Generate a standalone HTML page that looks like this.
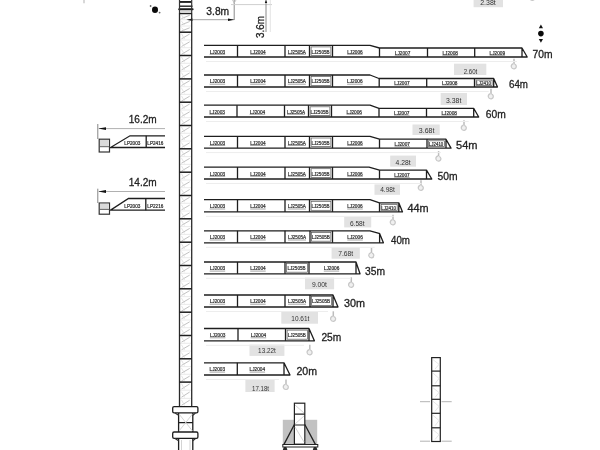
<!DOCTYPE html><html><head><meta charset="utf-8"><style>html,body{margin:0;padding:0;background:#fff;}svg{display:block;filter:blur(0.3px);}text{font-family:"Liberation Sans",sans-serif;}</style></head><body>
<svg width="600" height="450" viewBox="0 0 600 450">
<rect width="600" height="450" fill="#fff"/>
<rect x="473.6" y="-4" width="29.4" height="11.2" fill="#e2e2e2"/>
<text x="480.2" y="5.4" font-size="7" fill="#333" textLength="15.6" lengthAdjust="spacingAndGlyphs">2.38t</text>
<rect x="454" y="63.7" width="32.3" height="11.3" fill="#e2e2e2"/>
<text x="463.7" y="73.7" font-size="7" fill="#333" textLength="13.6" lengthAdjust="spacingAndGlyphs">2.60t</text>
<rect x="440.7" y="93" width="26.3" height="12.0" fill="#e2e2e2"/>
<text x="446" y="103.0" font-size="7" fill="#333" textLength="15.3" lengthAdjust="spacingAndGlyphs">3.38t</text>
<rect x="412.5" y="124.5" width="27.2" height="10.5" fill="#e2e2e2"/>
<text x="418.8" y="132.6" font-size="7" fill="#333" textLength="15.6" lengthAdjust="spacingAndGlyphs">3.68t</text>
<rect x="390.2" y="155.6" width="25.8" height="11.1" fill="#e2e2e2"/>
<text x="395.6" y="164.9" font-size="7" fill="#333" textLength="15.0" lengthAdjust="spacingAndGlyphs">4.28t</text>
<rect x="374.5" y="184.4" width="25.5" height="10.4" fill="#e2e2e2"/>
<text x="380.2" y="192.3" font-size="7" fill="#333" textLength="14.7" lengthAdjust="spacingAndGlyphs">4.98t</text>
<rect x="344.2" y="217" width="27.0" height="10.4" fill="#e2e2e2"/>
<text x="349.9" y="226.0" font-size="7" fill="#333" textLength="14.7" lengthAdjust="spacingAndGlyphs">6.58t</text>
<rect x="331.6" y="247.3" width="28.2" height="11.4" fill="#e2e2e2"/>
<text x="338.2" y="256.3" font-size="7" fill="#333" textLength="15.0" lengthAdjust="spacingAndGlyphs">7.68t</text>
<rect x="305" y="277.6" width="29.1" height="11.7" fill="#e2e2e2"/>
<text x="311.9" y="287.2" font-size="7" fill="#333" textLength="15.0" lengthAdjust="spacingAndGlyphs">9.00t</text>
<rect x="281.3" y="311.7" width="36.7" height="12.0" fill="#e2e2e2"/>
<text x="291.3" y="321.4" font-size="7" fill="#333" textLength="18.0" lengthAdjust="spacingAndGlyphs">10.61t</text>
<rect x="249.5" y="344.6" width="34.9" height="11.3" fill="#e2e2e2"/>
<text x="258.1" y="353.3" font-size="7" fill="#333" textLength="17.7" lengthAdjust="spacingAndGlyphs">13.22t</text>
<rect x="245.4" y="380" width="29.2" height="12.0" fill="#e2e2e2"/>
<text x="252" y="390.5" font-size="7" fill="#333" textLength="17.0" lengthAdjust="spacingAndGlyphs">17.18t</text>
<path d="M514 58.8 V64.5" stroke="#bdbdbd" stroke-width="1.5"/>
<path d="M513.5 63.6 q-2.6 0.8 -2.2 3.2 q0.6 2.2 3 2 q2.2 -0.4 2 -2.8 q-0.4 -1.6 -1.8 -1.8" stroke="#c8c8c8" stroke-width="1.2" fill="#f0f0f0"/>
<path d="M491 88.8 V94.5" stroke="#bdbdbd" stroke-width="1.5"/>
<path d="M490.5 93.6 q-2.6 0.8 -2.2 3.2 q0.6 2.2 3 2 q2.2 -0.4 2 -2.8 q-0.4 -1.6 -1.8 -1.8" stroke="#c8c8c8" stroke-width="1.2" fill="#f0f0f0"/>
<path d="M464 120.3 V126.0" stroke="#bdbdbd" stroke-width="1.5"/>
<path d="M463.5 125.1 q-2.6 0.8 -2.2 3.2 q0.6 2.2 3 2 q2.2 -0.4 2 -2.8 q-0.4 -1.6 -1.8 -1.8" stroke="#c8c8c8" stroke-width="1.2" fill="#f0f0f0"/>
<path d="M438.6 151.10000000000002 V156.8" stroke="#bdbdbd" stroke-width="1.5"/>
<path d="M438.1 155.9 q-2.6 0.8 -2.2 3.2 q0.6 2.2 3 2 q2.2 -0.4 2 -2.8 q-0.4 -1.6 -1.8 -1.8" stroke="#c8c8c8" stroke-width="1.2" fill="#f0f0f0"/>
<path d="M421 180.3 V186.0" stroke="#bdbdbd" stroke-width="1.5"/>
<path d="M420.5 185.1 q-2.6 0.8 -2.2 3.2 q0.6 2.2 3 2 q2.2 -0.4 2 -2.8 q-0.4 -1.6 -1.8 -1.8" stroke="#c8c8c8" stroke-width="1.2" fill="#f0f0f0"/>
<path d="M393 214.8 V220.5" stroke="#bdbdbd" stroke-width="1.5"/>
<path d="M392.5 219.6 q-2.6 0.8 -2.2 3.2 q0.6 2.2 3 2 q2.2 -0.4 2 -2.8 q-0.4 -1.6 -1.8 -1.8" stroke="#c8c8c8" stroke-width="1.2" fill="#f0f0f0"/>
<path d="M371.5 247.8 V253.5" stroke="#bdbdbd" stroke-width="1.5"/>
<path d="M371.0 252.6 q-2.6 0.8 -2.2 3.2 q0.6 2.2 3 2 q2.2 -0.4 2 -2.8 q-0.4 -1.6 -1.8 -1.8" stroke="#c8c8c8" stroke-width="1.2" fill="#f0f0f0"/>
<path d="M351.3 277.3 V283.0" stroke="#bdbdbd" stroke-width="1.5"/>
<path d="M350.8 282.1 q-2.6 0.8 -2.2 3.2 q0.6 2.2 3 2 q2.2 -0.4 2 -2.8 q-0.4 -1.6 -1.8 -1.8" stroke="#c8c8c8" stroke-width="1.2" fill="#f0f0f0"/>
<path d="M333.3 311.3 V317.0" stroke="#bdbdbd" stroke-width="1.5"/>
<path d="M332.8 316.1 q-2.6 0.8 -2.2 3.2 q0.6 2.2 3 2 q2.2 -0.4 2 -2.8 q-0.4 -1.6 -1.8 -1.8" stroke="#c8c8c8" stroke-width="1.2" fill="#f0f0f0"/>
<path d="M309.8 344.8 V350.5" stroke="#bdbdbd" stroke-width="1.5"/>
<path d="M309.3 349.6 q-2.6 0.8 -2.2 3.2 q0.6 2.2 3 2 q2.2 -0.4 2 -2.8 q-0.4 -1.6 -1.8 -1.8" stroke="#c8c8c8" stroke-width="1.2" fill="#f0f0f0"/>
<path d="M286 379.5 V385.2" stroke="#bdbdbd" stroke-width="1.5"/>
<path d="M285.5 384.3 q-2.6 0.8 -2.2 3.2 q0.6 2.2 3 2 q2.2 -0.4 2 -2.8 q-0.4 -1.6 -1.8 -1.8" stroke="#c8c8c8" stroke-width="1.2" fill="#f0f0f0"/>
<path d="M532.5 -9.7 V-4.0" stroke="#bdbdbd" stroke-width="1.5"/>
<path d="M532.0 -4.9 q-2.6 0.8 -2.2 3.2 q0.6 2.2 3 2 q2.2 -0.4 2 -2.8 q-0.4 -1.6 -1.8 -1.8" stroke="#c8c8c8" stroke-width="1.2" fill="#f0f0f0"/>
<path d="M204 45.3 H370 L379.5 48.0 H522 L527.2 57.0 H204 M522 48.0 V57.0" stroke="#1e1e1e" stroke-width="1.3" fill="none" stroke-linejoin="round"/>
<line x1="237.5" y1="45.3" x2="237.5" y2="57.0" stroke="#1e1e1e" stroke-width="1.3"/>
<line x1="285" y1="45.3" x2="285" y2="57.0" stroke="#1e1e1e" stroke-width="1.3"/>
<line x1="309.5" y1="45.3" x2="309.5" y2="57.0" stroke="#1e1e1e" stroke-width="1.3"/>
<line x1="332.5" y1="45.3" x2="332.5" y2="57.0" stroke="#1e1e1e" stroke-width="1.3"/>
<line x1="379.5" y1="48.0" x2="379.5" y2="57.0" stroke="#1e1e1e" stroke-width="1.3"/>
<line x1="427.5" y1="48.0" x2="427.5" y2="57.0" stroke="#1e1e1e" stroke-width="1.3"/>
<line x1="474.7" y1="48.0" x2="474.7" y2="57.0" stroke="#1e1e1e" stroke-width="1.3"/>
<text x="209.7" y="53.5" font-size="5" fill="#2a2a2a" stroke="#333" stroke-width="0.22" textLength="15.5" lengthAdjust="spacingAndGlyphs">LJ2003</text>
<line x1="209.7" y1="54.3" x2="225.2" y2="54.3" stroke="#666" stroke-width="0.6"/>
<text x="250.2" y="53.5" font-size="5" fill="#2a2a2a" stroke="#333" stroke-width="0.22" textLength="15.5" lengthAdjust="spacingAndGlyphs">LJ2004</text>
<line x1="250.2" y1="54.3" x2="265.7" y2="54.3" stroke="#666" stroke-width="0.6"/>
<text x="287.8" y="53.5" font-size="5" fill="#2a2a2a" stroke="#333" stroke-width="0.22" textLength="18.0" lengthAdjust="spacingAndGlyphs">LJ2505A</text>
<line x1="287.8" y1="54.3" x2="305.8" y2="54.3" stroke="#666" stroke-width="0.6"/>
<text x="311.5" y="53.5" font-size="5" fill="#2a2a2a" stroke="#333" stroke-width="0.22" textLength="18.0" lengthAdjust="spacingAndGlyphs">LJ2505B</text>
<rect x="311.1" y="46.9" width="19.8" height="8.5" fill="none" stroke="#555" stroke-width="0.7"/>
<text x="347.2" y="53.5" font-size="5" fill="#2a2a2a" stroke="#333" stroke-width="0.22" textLength="15.5" lengthAdjust="spacingAndGlyphs">LJ2006</text>
<line x1="347.2" y1="54.3" x2="362.8" y2="54.3" stroke="#666" stroke-width="0.6"/>
<text x="394.8" y="54.9" font-size="5" fill="#2a2a2a" stroke="#333" stroke-width="0.22" textLength="15.5" lengthAdjust="spacingAndGlyphs">LJ2007</text>
<line x1="394.8" y1="55.7" x2="410.2" y2="55.7" stroke="#666" stroke-width="0.6"/>
<text x="442.4" y="54.9" font-size="5" fill="#2a2a2a" stroke="#333" stroke-width="0.22" textLength="15.5" lengthAdjust="spacingAndGlyphs">LJ2008</text>
<line x1="442.4" y1="55.7" x2="457.9" y2="55.7" stroke="#666" stroke-width="0.6"/>
<text x="489.6" y="54.9" font-size="5" fill="#2a2a2a" stroke="#333" stroke-width="0.22" textLength="15.5" lengthAdjust="spacingAndGlyphs">LJ2009</text>
<line x1="489.6" y1="55.7" x2="505.1" y2="55.7" stroke="#666" stroke-width="0.6"/>
<text x="532.5" y="57.5" font-size="11" fill="#222" stroke="#222" stroke-width="0.3" textLength="20.0" lengthAdjust="spacingAndGlyphs">70m</text>
<line x1="206" y1="61.5" x2="517" y2="61.5" stroke="#ededed" stroke-width="1"/>
<path d="M204 75.0 H370 L379 78.5 H493.7 L497.5 87.0 H204 M493.7 78.5 V87.0" stroke="#1e1e1e" stroke-width="1.3" fill="none" stroke-linejoin="round"/>
<line x1="237.5" y1="75.0" x2="237.5" y2="87.0" stroke="#1e1e1e" stroke-width="1.3"/>
<line x1="285" y1="75.0" x2="285" y2="87.0" stroke="#1e1e1e" stroke-width="1.3"/>
<line x1="309.5" y1="75.0" x2="309.5" y2="87.0" stroke="#1e1e1e" stroke-width="1.3"/>
<line x1="332.5" y1="75.0" x2="332.5" y2="87.0" stroke="#1e1e1e" stroke-width="1.3"/>
<line x1="379.2" y1="78.5" x2="379.2" y2="87.0" stroke="#1e1e1e" stroke-width="1.3"/>
<line x1="426.7" y1="78.5" x2="426.7" y2="87.0" stroke="#1e1e1e" stroke-width="1.3"/>
<line x1="474.5" y1="78.5" x2="474.5" y2="87.0" stroke="#1e1e1e" stroke-width="1.3"/>
<text x="209.7" y="83.4" font-size="5" fill="#2a2a2a" stroke="#333" stroke-width="0.22" textLength="15.5" lengthAdjust="spacingAndGlyphs">LJ2003</text>
<line x1="209.7" y1="84.2" x2="225.2" y2="84.2" stroke="#666" stroke-width="0.6"/>
<text x="250.2" y="83.4" font-size="5" fill="#2a2a2a" stroke="#333" stroke-width="0.22" textLength="15.5" lengthAdjust="spacingAndGlyphs">LJ2004</text>
<line x1="250.2" y1="84.2" x2="265.7" y2="84.2" stroke="#666" stroke-width="0.6"/>
<text x="287.8" y="83.4" font-size="5" fill="#2a2a2a" stroke="#333" stroke-width="0.22" textLength="18.0" lengthAdjust="spacingAndGlyphs">LJ2505A</text>
<line x1="287.8" y1="84.2" x2="305.8" y2="84.2" stroke="#666" stroke-width="0.6"/>
<text x="311.5" y="83.4" font-size="5" fill="#2a2a2a" stroke="#333" stroke-width="0.22" textLength="18.0" lengthAdjust="spacingAndGlyphs">LJ2505B</text>
<rect x="311.1" y="76.6" width="19.8" height="8.8" fill="none" stroke="#555" stroke-width="0.7"/>
<text x="347.1" y="83.4" font-size="5" fill="#2a2a2a" stroke="#333" stroke-width="0.22" textLength="15.5" lengthAdjust="spacingAndGlyphs">LJ2006</text>
<line x1="347.1" y1="84.2" x2="362.6" y2="84.2" stroke="#666" stroke-width="0.6"/>
<text x="394.2" y="85.1" font-size="5" fill="#2a2a2a" stroke="#333" stroke-width="0.22" textLength="15.5" lengthAdjust="spacingAndGlyphs">LJ2007</text>
<line x1="394.2" y1="86.0" x2="409.7" y2="86.0" stroke="#666" stroke-width="0.6"/>
<text x="441.9" y="85.1" font-size="5" fill="#2a2a2a" stroke="#333" stroke-width="0.22" textLength="15.5" lengthAdjust="spacingAndGlyphs">LJ2008</text>
<line x1="441.9" y1="86.0" x2="457.4" y2="86.0" stroke="#666" stroke-width="0.6"/>
<text x="476.2" y="85.1" font-size="5" fill="#2a2a2a" stroke="#333" stroke-width="0.22" textLength="14.7" lengthAdjust="spacingAndGlyphs">LJ2410</text>
<rect x="476.1" y="80.1" width="16.0" height="5.3" fill="none" stroke="#555" stroke-width="0.7"/>
<text x="509" y="87.5" font-size="11" fill="#222" stroke="#222" stroke-width="0.3" textLength="19.0" lengthAdjust="spacingAndGlyphs">64m</text>
<line x1="206" y1="91.5" x2="488.7" y2="91.5" stroke="#ededed" stroke-width="1"/>
<path d="M204 105.2 H370 L379 108.3 H473.7 L478.7 117.0 H204 M473.7 108.3 V117.0" stroke="#1e1e1e" stroke-width="1.3" fill="none" stroke-linejoin="round"/>
<line x1="237" y1="105.2" x2="237" y2="117.0" stroke="#1e1e1e" stroke-width="1.3"/>
<line x1="284.5" y1="105.2" x2="284.5" y2="117.0" stroke="#1e1e1e" stroke-width="1.3"/>
<line x1="308.5" y1="105.2" x2="308.5" y2="117.0" stroke="#1e1e1e" stroke-width="1.3"/>
<line x1="331.5" y1="105.2" x2="331.5" y2="117.0" stroke="#1e1e1e" stroke-width="1.3"/>
<line x1="379" y1="108.3" x2="379" y2="117.0" stroke="#1e1e1e" stroke-width="1.3"/>
<line x1="426.5" y1="108.3" x2="426.5" y2="117.0" stroke="#1e1e1e" stroke-width="1.3"/>
<text x="209.4" y="113.5" font-size="5" fill="#2a2a2a" stroke="#333" stroke-width="0.22" textLength="15.5" lengthAdjust="spacingAndGlyphs">LJ2003</text>
<line x1="209.4" y1="114.3" x2="224.9" y2="114.3" stroke="#666" stroke-width="0.6"/>
<text x="249.7" y="113.5" font-size="5" fill="#2a2a2a" stroke="#333" stroke-width="0.22" textLength="15.5" lengthAdjust="spacingAndGlyphs">LJ2004</text>
<line x1="249.7" y1="114.3" x2="265.2" y2="114.3" stroke="#666" stroke-width="0.6"/>
<text x="287.0" y="113.5" font-size="5" fill="#2a2a2a" stroke="#333" stroke-width="0.22" textLength="18.0" lengthAdjust="spacingAndGlyphs">LJ2505A</text>
<line x1="287.0" y1="114.3" x2="305.0" y2="114.3" stroke="#666" stroke-width="0.6"/>
<text x="310.5" y="113.5" font-size="5" fill="#2a2a2a" stroke="#333" stroke-width="0.22" textLength="18.0" lengthAdjust="spacingAndGlyphs">LJ2505B</text>
<rect x="310.1" y="106.8" width="19.8" height="8.6" fill="none" stroke="#555" stroke-width="0.7"/>
<text x="346.5" y="113.5" font-size="5" fill="#2a2a2a" stroke="#333" stroke-width="0.22" textLength="15.5" lengthAdjust="spacingAndGlyphs">LJ2006</text>
<line x1="346.5" y1="114.3" x2="362.0" y2="114.3" stroke="#666" stroke-width="0.6"/>
<text x="394.0" y="115.0" font-size="5" fill="#2a2a2a" stroke="#333" stroke-width="0.22" textLength="15.5" lengthAdjust="spacingAndGlyphs">LJ2007</text>
<line x1="394.0" y1="115.9" x2="409.5" y2="115.9" stroke="#666" stroke-width="0.6"/>
<text x="441.4" y="115.0" font-size="5" fill="#2a2a2a" stroke="#333" stroke-width="0.22" textLength="15.5" lengthAdjust="spacingAndGlyphs">LJ2008</text>
<line x1="441.4" y1="115.9" x2="456.9" y2="115.9" stroke="#666" stroke-width="0.6"/>
<text x="485.8" y="118.0" font-size="11" fill="#222" stroke="#222" stroke-width="0.3" textLength="20.0" lengthAdjust="spacingAndGlyphs">60m</text>
<line x1="206" y1="121.5" x2="468.7" y2="121.5" stroke="#ededed" stroke-width="1"/>
<path d="M204 136.4 H370 L379.5 139.2 H446 L451 148.1 H204 M446 139.2 V148.1" stroke="#1e1e1e" stroke-width="1.3" fill="none" stroke-linejoin="round"/>
<line x1="237.5" y1="136.4" x2="237.5" y2="148.1" stroke="#1e1e1e" stroke-width="1.3"/>
<line x1="285" y1="136.4" x2="285" y2="148.1" stroke="#1e1e1e" stroke-width="1.3"/>
<line x1="309.5" y1="136.4" x2="309.5" y2="148.1" stroke="#1e1e1e" stroke-width="1.3"/>
<line x1="332.5" y1="136.4" x2="332.5" y2="148.1" stroke="#1e1e1e" stroke-width="1.3"/>
<line x1="379.5" y1="139.2" x2="379.5" y2="148.1" stroke="#1e1e1e" stroke-width="1.3"/>
<line x1="427" y1="139.2" x2="427" y2="148.1" stroke="#1e1e1e" stroke-width="1.3"/>
<text x="209.7" y="144.7" font-size="5" fill="#2a2a2a" stroke="#333" stroke-width="0.22" textLength="15.5" lengthAdjust="spacingAndGlyphs">LJ2003</text>
<line x1="209.7" y1="145.5" x2="225.2" y2="145.5" stroke="#666" stroke-width="0.6"/>
<text x="250.2" y="144.7" font-size="5" fill="#2a2a2a" stroke="#333" stroke-width="0.22" textLength="15.5" lengthAdjust="spacingAndGlyphs">LJ2004</text>
<line x1="250.2" y1="145.5" x2="265.7" y2="145.5" stroke="#666" stroke-width="0.6"/>
<text x="287.8" y="144.7" font-size="5" fill="#2a2a2a" stroke="#333" stroke-width="0.22" textLength="18.0" lengthAdjust="spacingAndGlyphs">LJ2505A</text>
<line x1="287.8" y1="145.5" x2="305.8" y2="145.5" stroke="#666" stroke-width="0.6"/>
<text x="311.5" y="144.7" font-size="5" fill="#2a2a2a" stroke="#333" stroke-width="0.22" textLength="18.0" lengthAdjust="spacingAndGlyphs">LJ2505B</text>
<rect x="311.1" y="138.0" width="19.8" height="8.5" fill="none" stroke="#555" stroke-width="0.7"/>
<text x="347.2" y="144.7" font-size="5" fill="#2a2a2a" stroke="#333" stroke-width="0.22" textLength="15.5" lengthAdjust="spacingAndGlyphs">LJ2006</text>
<line x1="347.2" y1="145.5" x2="362.8" y2="145.5" stroke="#666" stroke-width="0.6"/>
<text x="394.5" y="146.0" font-size="5" fill="#2a2a2a" stroke="#333" stroke-width="0.22" textLength="15.5" lengthAdjust="spacingAndGlyphs">LJ2007</text>
<line x1="394.5" y1="146.8" x2="410.0" y2="146.8" stroke="#666" stroke-width="0.6"/>
<text x="428.8" y="146.0" font-size="5" fill="#2a2a2a" stroke="#333" stroke-width="0.22" textLength="14.5" lengthAdjust="spacingAndGlyphs">LJ2410</text>
<rect x="428.6" y="140.8" width="15.8" height="5.7" fill="none" stroke="#555" stroke-width="0.7"/>
<text x="456" y="148.5" font-size="11" fill="#222" stroke="#222" stroke-width="0.3" textLength="21.5" lengthAdjust="spacingAndGlyphs">54m</text>
<line x1="206" y1="152.6" x2="441" y2="152.6" stroke="#ededed" stroke-width="1"/>
<path d="M204 167.1 H369 L379.5 170.1 H426.5 L431.8 179.0 H204 M426.5 170.1 V179.0" stroke="#1e1e1e" stroke-width="1.3" fill="none" stroke-linejoin="round"/>
<line x1="237.5" y1="167.1" x2="237.5" y2="179.0" stroke="#1e1e1e" stroke-width="1.3"/>
<line x1="285" y1="167.1" x2="285" y2="179.0" stroke="#1e1e1e" stroke-width="1.3"/>
<line x1="309.5" y1="167.1" x2="309.5" y2="179.0" stroke="#1e1e1e" stroke-width="1.3"/>
<line x1="332.5" y1="167.1" x2="332.5" y2="179.0" stroke="#1e1e1e" stroke-width="1.3"/>
<line x1="379.5" y1="170.1" x2="379.5" y2="179.0" stroke="#1e1e1e" stroke-width="1.3"/>
<text x="209.7" y="175.5" font-size="5" fill="#2a2a2a" stroke="#333" stroke-width="0.22" textLength="15.5" lengthAdjust="spacingAndGlyphs">LJ2003</text>
<line x1="209.7" y1="176.3" x2="225.2" y2="176.3" stroke="#666" stroke-width="0.6"/>
<text x="250.2" y="175.5" font-size="5" fill="#2a2a2a" stroke="#333" stroke-width="0.22" textLength="15.5" lengthAdjust="spacingAndGlyphs">LJ2004</text>
<line x1="250.2" y1="176.3" x2="265.7" y2="176.3" stroke="#666" stroke-width="0.6"/>
<text x="287.8" y="175.5" font-size="5" fill="#2a2a2a" stroke="#333" stroke-width="0.22" textLength="18.0" lengthAdjust="spacingAndGlyphs">LJ2505A</text>
<line x1="287.8" y1="176.3" x2="305.8" y2="176.3" stroke="#666" stroke-width="0.6"/>
<text x="311.5" y="175.5" font-size="5" fill="#2a2a2a" stroke="#333" stroke-width="0.22" textLength="18.0" lengthAdjust="spacingAndGlyphs">LJ2505B</text>
<rect x="311.1" y="168.7" width="19.8" height="8.7" fill="none" stroke="#555" stroke-width="0.7"/>
<text x="347.2" y="175.5" font-size="5" fill="#2a2a2a" stroke="#333" stroke-width="0.22" textLength="15.5" lengthAdjust="spacingAndGlyphs">LJ2006</text>
<line x1="347.2" y1="176.3" x2="362.8" y2="176.3" stroke="#666" stroke-width="0.6"/>
<text x="394.2" y="177.0" font-size="5" fill="#2a2a2a" stroke="#333" stroke-width="0.22" textLength="15.5" lengthAdjust="spacingAndGlyphs">LJ2007</text>
<line x1="394.2" y1="177.8" x2="409.8" y2="177.8" stroke="#666" stroke-width="0.6"/>
<text x="437.5" y="179.5" font-size="11" fill="#222" stroke="#222" stroke-width="0.3" textLength="20.0" lengthAdjust="spacingAndGlyphs">50m</text>
<line x1="206" y1="183.5" x2="421.5" y2="183.5" stroke="#ededed" stroke-width="1"/>
<path d="M204 199.7 H370 L379.5 202.8 H398.8 L402.5 211.9 H204 M398.8 202.8 V211.9" stroke="#1e1e1e" stroke-width="1.3" fill="none" stroke-linejoin="round"/>
<line x1="237.5" y1="199.7" x2="237.5" y2="211.9" stroke="#1e1e1e" stroke-width="1.3"/>
<line x1="285" y1="199.7" x2="285" y2="211.9" stroke="#1e1e1e" stroke-width="1.3"/>
<line x1="309.5" y1="199.7" x2="309.5" y2="211.9" stroke="#1e1e1e" stroke-width="1.3"/>
<line x1="332.5" y1="199.7" x2="332.5" y2="211.9" stroke="#1e1e1e" stroke-width="1.3"/>
<line x1="379.5" y1="202.8" x2="379.5" y2="211.9" stroke="#1e1e1e" stroke-width="1.3"/>
<text x="209.7" y="208.2" font-size="5" fill="#2a2a2a" stroke="#333" stroke-width="0.22" textLength="15.5" lengthAdjust="spacingAndGlyphs">LJ2003</text>
<line x1="209.7" y1="209.0" x2="225.2" y2="209.0" stroke="#666" stroke-width="0.6"/>
<text x="250.2" y="208.2" font-size="5" fill="#2a2a2a" stroke="#333" stroke-width="0.22" textLength="15.5" lengthAdjust="spacingAndGlyphs">LJ2004</text>
<line x1="250.2" y1="209.0" x2="265.7" y2="209.0" stroke="#666" stroke-width="0.6"/>
<text x="287.8" y="208.2" font-size="5" fill="#2a2a2a" stroke="#333" stroke-width="0.22" textLength="18.0" lengthAdjust="spacingAndGlyphs">LJ2505A</text>
<line x1="287.8" y1="209.0" x2="305.8" y2="209.0" stroke="#666" stroke-width="0.6"/>
<text x="311.5" y="208.2" font-size="5" fill="#2a2a2a" stroke="#333" stroke-width="0.22" textLength="18.0" lengthAdjust="spacingAndGlyphs">LJ2505B</text>
<rect x="311.1" y="201.3" width="19.8" height="9.0" fill="none" stroke="#555" stroke-width="0.7"/>
<text x="347.2" y="208.2" font-size="5" fill="#2a2a2a" stroke="#333" stroke-width="0.22" textLength="15.5" lengthAdjust="spacingAndGlyphs">LJ2006</text>
<line x1="347.2" y1="209.0" x2="362.8" y2="209.0" stroke="#666" stroke-width="0.6"/>
<text x="381.2" y="209.8" font-size="5" fill="#2a2a2a" stroke="#333" stroke-width="0.22" textLength="14.8" lengthAdjust="spacingAndGlyphs">LJ2410</text>
<rect x="381.1" y="204.4" width="16.1" height="5.9" fill="none" stroke="#555" stroke-width="0.7"/>
<text x="407.5" y="211.5" font-size="11" fill="#222" stroke="#222" stroke-width="0.3" textLength="21.2" lengthAdjust="spacingAndGlyphs">44m</text>
<line x1="206" y1="216.4" x2="393.8" y2="216.4" stroke="#ededed" stroke-width="1"/>
<path d="M204 230.8 H370 L379 233.4 H379.6 L383.4 242.8 H204 M379.6 233.4 V242.8" stroke="#1e1e1e" stroke-width="1.3" fill="none" stroke-linejoin="round"/>
<line x1="237.5" y1="230.8" x2="237.5" y2="242.8" stroke="#1e1e1e" stroke-width="1.3"/>
<line x1="285" y1="230.8" x2="285" y2="242.8" stroke="#1e1e1e" stroke-width="1.3"/>
<line x1="310" y1="230.8" x2="310" y2="242.8" stroke="#1e1e1e" stroke-width="1.3"/>
<line x1="332.5" y1="230.8" x2="332.5" y2="242.8" stroke="#1e1e1e" stroke-width="1.3"/>
<text x="209.7" y="239.2" font-size="5" fill="#2a2a2a" stroke="#333" stroke-width="0.22" textLength="15.5" lengthAdjust="spacingAndGlyphs">LJ2003</text>
<line x1="209.7" y1="240.0" x2="225.2" y2="240.0" stroke="#666" stroke-width="0.6"/>
<text x="250.2" y="239.2" font-size="5" fill="#2a2a2a" stroke="#333" stroke-width="0.22" textLength="15.5" lengthAdjust="spacingAndGlyphs">LJ2004</text>
<line x1="250.2" y1="240.0" x2="265.7" y2="240.0" stroke="#666" stroke-width="0.6"/>
<text x="288.0" y="239.2" font-size="5" fill="#2a2a2a" stroke="#333" stroke-width="0.22" textLength="18.0" lengthAdjust="spacingAndGlyphs">LJ2505A</text>
<line x1="288.0" y1="240.0" x2="306.0" y2="240.0" stroke="#666" stroke-width="0.6"/>
<text x="311.8" y="239.2" font-size="5" fill="#2a2a2a" stroke="#333" stroke-width="0.22" textLength="18.0" lengthAdjust="spacingAndGlyphs">LJ2505B</text>
<rect x="311.6" y="232.4" width="19.3" height="8.8" fill="none" stroke="#555" stroke-width="0.7"/>
<text x="347.3" y="239.2" font-size="5" fill="#2a2a2a" stroke="#333" stroke-width="0.22" textLength="15.5" lengthAdjust="spacingAndGlyphs">LJ2006</text>
<line x1="347.3" y1="240.0" x2="362.8" y2="240.0" stroke="#666" stroke-width="0.6"/>
<text x="391" y="243.5" font-size="11" fill="#222" stroke="#222" stroke-width="0.3" textLength="19.0" lengthAdjust="spacingAndGlyphs">40m</text>
<line x1="206" y1="247.3" x2="374.6" y2="247.3" stroke="#ededed" stroke-width="1"/>
<path d="M204 262.0 H356 L360 273.8 H204 M356 262.0 V273.8" stroke="#1e1e1e" stroke-width="1.3" fill="none" stroke-linejoin="round"/>
<line x1="237.5" y1="262.0" x2="237.5" y2="273.8" stroke="#1e1e1e" stroke-width="1.3"/>
<line x1="285" y1="262.0" x2="285" y2="273.8" stroke="#1e1e1e" stroke-width="1.3"/>
<line x1="309" y1="262.0" x2="309" y2="273.8" stroke="#1e1e1e" stroke-width="1.3"/>
<text x="209.7" y="270.3" font-size="5" fill="#2a2a2a" stroke="#333" stroke-width="0.22" textLength="15.5" lengthAdjust="spacingAndGlyphs">LJ2003</text>
<line x1="209.7" y1="271.1" x2="225.2" y2="271.1" stroke="#666" stroke-width="0.6"/>
<text x="250.2" y="270.3" font-size="5" fill="#2a2a2a" stroke="#333" stroke-width="0.22" textLength="15.5" lengthAdjust="spacingAndGlyphs">LJ2004</text>
<line x1="250.2" y1="271.1" x2="265.7" y2="271.1" stroke="#666" stroke-width="0.6"/>
<text x="287.5" y="270.3" font-size="5" fill="#2a2a2a" stroke="#333" stroke-width="0.22" textLength="18.0" lengthAdjust="spacingAndGlyphs">LJ2505B</text>
<rect x="286.6" y="263.6" width="20.8" height="8.6" fill="none" stroke="#555" stroke-width="0.7"/>
<text x="323.8" y="270.3" font-size="5" fill="#2a2a2a" stroke="#333" stroke-width="0.22" textLength="15.5" lengthAdjust="spacingAndGlyphs">LJ2006</text>
<line x1="323.8" y1="271.1" x2="339.2" y2="271.1" stroke="#666" stroke-width="0.6"/>
<text x="365" y="274.5" font-size="11" fill="#222" stroke="#222" stroke-width="0.3" textLength="20.0" lengthAdjust="spacingAndGlyphs">35m</text>
<line x1="206" y1="278.3" x2="351" y2="278.3" stroke="#ededed" stroke-width="1"/>
<path d="M204 295.0 H333 L338 307.0 H204 M333 295.0 V307.0" stroke="#1e1e1e" stroke-width="1.3" fill="none" stroke-linejoin="round"/>
<line x1="237.5" y1="295.0" x2="237.5" y2="307.0" stroke="#1e1e1e" stroke-width="1.3"/>
<line x1="285" y1="295.0" x2="285" y2="307.0" stroke="#1e1e1e" stroke-width="1.3"/>
<line x1="310" y1="295.0" x2="310" y2="307.0" stroke="#1e1e1e" stroke-width="1.3"/>
<text x="209.7" y="303.4" font-size="5" fill="#2a2a2a" stroke="#333" stroke-width="0.22" textLength="15.5" lengthAdjust="spacingAndGlyphs">LJ2003</text>
<line x1="209.7" y1="304.2" x2="225.2" y2="304.2" stroke="#666" stroke-width="0.6"/>
<text x="250.2" y="303.4" font-size="5" fill="#2a2a2a" stroke="#333" stroke-width="0.22" textLength="15.5" lengthAdjust="spacingAndGlyphs">LJ2004</text>
<line x1="250.2" y1="304.2" x2="265.7" y2="304.2" stroke="#666" stroke-width="0.6"/>
<text x="288.0" y="303.4" font-size="5" fill="#2a2a2a" stroke="#333" stroke-width="0.22" textLength="18.0" lengthAdjust="spacingAndGlyphs">LJ2505A</text>
<line x1="288.0" y1="304.2" x2="306.0" y2="304.2" stroke="#666" stroke-width="0.6"/>
<text x="312.0" y="303.4" font-size="5" fill="#2a2a2a" stroke="#333" stroke-width="0.22" textLength="18.0" lengthAdjust="spacingAndGlyphs">LJ2505B</text>
<rect x="311.6" y="296.6" width="19.8" height="8.8" fill="none" stroke="#555" stroke-width="0.7"/>
<text x="344" y="307.2" font-size="11" fill="#222" stroke="#222" stroke-width="0.3" textLength="21.0" lengthAdjust="spacingAndGlyphs">30m</text>
<line x1="206" y1="311.5" x2="328" y2="311.5" stroke="#ededed" stroke-width="1"/>
<path d="M204 328.5 H309 L314.4 340.8 H204 M309 328.5 V340.8" stroke="#1e1e1e" stroke-width="1.3" fill="none" stroke-linejoin="round"/>
<line x1="238" y1="328.5" x2="238" y2="340.8" stroke="#1e1e1e" stroke-width="1.3"/>
<line x1="285.5" y1="328.5" x2="285.5" y2="340.8" stroke="#1e1e1e" stroke-width="1.3"/>
<text x="209.9" y="337.1" font-size="5" fill="#2a2a2a" stroke="#333" stroke-width="0.22" textLength="15.5" lengthAdjust="spacingAndGlyphs">LJ2003</text>
<line x1="209.9" y1="337.8" x2="225.4" y2="337.8" stroke="#666" stroke-width="0.6"/>
<text x="250.7" y="337.1" font-size="5" fill="#2a2a2a" stroke="#333" stroke-width="0.22" textLength="15.5" lengthAdjust="spacingAndGlyphs">LJ2004</text>
<line x1="250.7" y1="337.8" x2="266.2" y2="337.8" stroke="#666" stroke-width="0.6"/>
<text x="287.8" y="337.1" font-size="5" fill="#2a2a2a" stroke="#333" stroke-width="0.22" textLength="18.0" lengthAdjust="spacingAndGlyphs">LJ2505B</text>
<rect x="287.1" y="330.1" width="20.3" height="9.1" fill="none" stroke="#555" stroke-width="0.7"/>
<text x="321.4" y="340.9" font-size="11" fill="#222" stroke="#222" stroke-width="0.3" textLength="19.9" lengthAdjust="spacingAndGlyphs">25m</text>
<line x1="206" y1="345.3" x2="304" y2="345.3" stroke="#ededed" stroke-width="1"/>
<path d="M204 362.8 H284 L290 375.0 H204 M284 362.8 V375.0" stroke="#1e1e1e" stroke-width="1.3" fill="none" stroke-linejoin="round"/>
<line x1="237.3" y1="362.8" x2="237.3" y2="375.0" stroke="#1e1e1e" stroke-width="1.3"/>
<text x="209.6" y="371.3" font-size="5" fill="#2a2a2a" stroke="#333" stroke-width="0.22" textLength="15.5" lengthAdjust="spacingAndGlyphs">LJ2003</text>
<line x1="209.6" y1="372.1" x2="225.1" y2="372.1" stroke="#666" stroke-width="0.6"/>
<text x="249.6" y="371.3" font-size="5" fill="#2a2a2a" stroke="#333" stroke-width="0.22" textLength="15.5" lengthAdjust="spacingAndGlyphs">LJ2004</text>
<line x1="249.6" y1="372.1" x2="265.1" y2="372.1" stroke="#666" stroke-width="0.6"/>
<text x="296.4" y="374.8" font-size="11" fill="#222" stroke="#222" stroke-width="0.3" textLength="20.6" lengthAdjust="spacingAndGlyphs">20m</text>
<line x1="206" y1="379.5" x2="279" y2="379.5" stroke="#ededed" stroke-width="1"/>
<path d="M181.5 18.5 L189.7 15.3 M181.5 24.8 L189.7 21.5 M181.5 31.0 L189.7 27.8 " stroke="#c2c2c2" stroke-width="1" fill="none"/>
<path d="M181.5 15.0 L184.5 18.7 M181.5 21.2 L184.5 25.0 M181.5 27.5 L184.5 31.2 " stroke="#dadada" stroke-width="0.8" fill="none"/>
<path d="M179.5 19.7 H191.7 M179.5 26.0 H191.7" stroke="#e4e4e4" stroke-width="0.8" fill="none"/>
<path d="M181.5 38.8 L189.7 34.0 M181.5 46.5 L189.7 41.8 M181.5 54.3 L189.7 49.5 " stroke="#c2c2c2" stroke-width="1" fill="none"/>
<path d="M181.5 33.7 L184.5 39.0 M181.5 41.5 L184.5 46.7 M181.5 49.2 L184.5 54.5 " stroke="#dadada" stroke-width="0.8" fill="none"/>
<path d="M179.5 40.0 H191.7 M179.5 47.7 H191.7" stroke="#e4e4e4" stroke-width="0.8" fill="none"/>
<path d="M181.5 62.1 L189.7 57.3 M181.5 69.9 L189.7 65.1 M181.5 77.7 L189.7 72.9 " stroke="#c2c2c2" stroke-width="1" fill="none"/>
<path d="M181.5 57.0 L184.5 62.3 M181.5 64.8 L184.5 70.1 M181.5 72.6 L184.5 77.9 " stroke="#dadada" stroke-width="0.8" fill="none"/>
<path d="M179.5 63.3 H191.7 M179.5 71.1 H191.7" stroke="#e4e4e4" stroke-width="0.8" fill="none"/>
<path d="M181.5 85.5 L189.7 80.7 M181.5 93.2 L189.7 88.5 M181.5 101.0 L189.7 96.2 " stroke="#c2c2c2" stroke-width="1" fill="none"/>
<path d="M181.5 80.4 L184.5 85.7 M181.5 88.2 L184.5 93.4 M181.5 95.9 L184.5 101.2 " stroke="#dadada" stroke-width="0.8" fill="none"/>
<path d="M179.5 86.7 H191.7 M179.5 94.4 H191.7" stroke="#e4e4e4" stroke-width="0.8" fill="none"/>
<path d="M181.5 108.8 L189.7 104.0 M181.5 116.5 L189.7 111.8 M181.5 124.3 L189.7 119.5 " stroke="#c2c2c2" stroke-width="1" fill="none"/>
<path d="M181.5 103.7 L184.5 109.0 M181.5 111.5 L184.5 116.7 M181.5 119.2 L184.5 124.5 " stroke="#dadada" stroke-width="0.8" fill="none"/>
<path d="M179.5 110.0 H191.7 M179.5 117.7 H191.7" stroke="#e4e4e4" stroke-width="0.8" fill="none"/>
<path d="M181.5 132.1 L189.7 127.3 M181.5 139.8 L189.7 135.1 M181.5 147.6 L189.7 142.8 " stroke="#c2c2c2" stroke-width="1" fill="none"/>
<path d="M181.5 127.0 L184.5 132.3 M181.5 134.8 L184.5 140.0 M181.5 142.5 L184.5 147.8 " stroke="#dadada" stroke-width="0.8" fill="none"/>
<path d="M179.5 133.3 H191.7 M179.5 141.0 H191.7" stroke="#e4e4e4" stroke-width="0.8" fill="none"/>
<path d="M181.5 155.4 L189.7 150.6 M181.5 163.2 L189.7 158.4 M181.5 171.0 L189.7 166.2 " stroke="#c2c2c2" stroke-width="1" fill="none"/>
<path d="M181.5 150.3 L184.5 155.6 M181.5 158.1 L184.5 163.4 M181.5 165.9 L184.5 171.2 " stroke="#dadada" stroke-width="0.8" fill="none"/>
<path d="M179.5 156.6 H191.7 M179.5 164.4 H191.7" stroke="#e4e4e4" stroke-width="0.8" fill="none"/>
<path d="M181.5 178.8 L189.7 174.0 M181.5 186.5 L189.7 181.8 M181.5 194.3 L189.7 189.5 " stroke="#c2c2c2" stroke-width="1" fill="none"/>
<path d="M181.5 173.7 L184.5 179.0 M181.5 181.5 L184.5 186.7 M181.5 189.2 L184.5 194.5 " stroke="#dadada" stroke-width="0.8" fill="none"/>
<path d="M179.5 180.0 H191.7 M179.5 187.7 H191.7" stroke="#e4e4e4" stroke-width="0.8" fill="none"/>
<path d="M181.5 202.1 L189.7 197.3 M181.5 209.8 L189.7 205.1 M181.5 217.6 L189.7 212.8 " stroke="#c2c2c2" stroke-width="1" fill="none"/>
<path d="M181.5 197.0 L184.5 202.3 M181.5 204.8 L184.5 210.0 M181.5 212.5 L184.5 217.8 " stroke="#dadada" stroke-width="0.8" fill="none"/>
<path d="M179.5 203.3 H191.7 M179.5 211.0 H191.7" stroke="#e4e4e4" stroke-width="0.8" fill="none"/>
<path d="M181.5 225.4 L189.7 220.6 M181.5 233.2 L189.7 228.4 M181.5 241.0 L189.7 236.2 " stroke="#c2c2c2" stroke-width="1" fill="none"/>
<path d="M181.5 220.3 L184.5 225.6 M181.5 228.1 L184.5 233.4 M181.5 235.9 L184.5 241.2 " stroke="#dadada" stroke-width="0.8" fill="none"/>
<path d="M179.5 226.6 H191.7 M179.5 234.4 H191.7" stroke="#e4e4e4" stroke-width="0.8" fill="none"/>
<path d="M181.5 248.8 L189.7 244.0 M181.5 256.5 L189.7 251.8 M181.5 264.3 L189.7 259.5 " stroke="#c2c2c2" stroke-width="1" fill="none"/>
<path d="M181.5 243.7 L184.5 249.0 M181.5 251.5 L184.5 256.7 M181.5 259.2 L184.5 264.5 " stroke="#dadada" stroke-width="0.8" fill="none"/>
<path d="M179.5 250.0 H191.7 M179.5 257.7 H191.7" stroke="#e4e4e4" stroke-width="0.8" fill="none"/>
<path d="M181.5 272.1 L189.7 267.3 M181.5 279.8 L189.7 275.1 M181.5 287.6 L189.7 282.8 " stroke="#c2c2c2" stroke-width="1" fill="none"/>
<path d="M181.5 267.0 L184.5 272.3 M181.5 274.8 L184.5 280.0 M181.5 282.5 L184.5 287.8 " stroke="#dadada" stroke-width="0.8" fill="none"/>
<path d="M179.5 273.3 H191.7 M179.5 281.0 H191.7" stroke="#e4e4e4" stroke-width="0.8" fill="none"/>
<path d="M181.5 295.4 L189.7 290.6 M181.5 303.2 L189.7 298.4 M181.5 311.0 L189.7 306.2 " stroke="#c2c2c2" stroke-width="1" fill="none"/>
<path d="M181.5 290.3 L184.5 295.6 M181.5 298.1 L184.5 303.4 M181.5 305.9 L184.5 311.2 " stroke="#dadada" stroke-width="0.8" fill="none"/>
<path d="M179.5 296.6 H191.7 M179.5 304.4 H191.7" stroke="#e4e4e4" stroke-width="0.8" fill="none"/>
<path d="M181.5 318.8 L189.7 314.0 M181.5 326.5 L189.7 321.8 M181.5 334.3 L189.7 329.5 " stroke="#c2c2c2" stroke-width="1" fill="none"/>
<path d="M181.5 313.7 L184.5 319.0 M181.5 321.5 L184.5 326.7 M181.5 329.2 L184.5 334.5 " stroke="#dadada" stroke-width="0.8" fill="none"/>
<path d="M179.5 320.0 H191.7 M179.5 327.7 H191.7" stroke="#e4e4e4" stroke-width="0.8" fill="none"/>
<path d="M181.5 342.1 L189.7 337.3 M181.5 349.8 L189.7 345.1 M181.5 357.6 L189.7 352.8 " stroke="#c2c2c2" stroke-width="1" fill="none"/>
<path d="M181.5 337.0 L184.5 342.3 M181.5 344.8 L184.5 350.0 M181.5 352.5 L184.5 357.8 " stroke="#dadada" stroke-width="0.8" fill="none"/>
<path d="M179.5 343.3 H191.7 M179.5 351.0 H191.7" stroke="#e4e4e4" stroke-width="0.8" fill="none"/>
<path d="M181.5 365.4 L189.7 360.6 M181.5 373.1 L189.7 368.4 M181.5 380.9 L189.7 376.1 " stroke="#c2c2c2" stroke-width="1" fill="none"/>
<path d="M181.5 360.3 L184.5 365.6 M181.5 368.1 L184.5 373.3 M181.5 375.8 L184.5 381.1 " stroke="#dadada" stroke-width="0.8" fill="none"/>
<path d="M179.5 366.6 H191.7 M179.5 374.3 H191.7" stroke="#e4e4e4" stroke-width="0.8" fill="none"/>
<path d="M181.5 389.0 L189.7 383.9 M181.5 397.2 L189.7 392.0 M181.5 405.3 L189.7 400.2 " stroke="#c2c2c2" stroke-width="1" fill="none"/>
<path d="M181.5 383.6 L184.5 389.2 M181.5 391.7 L184.5 397.4 M181.5 399.9 L184.5 405.5 " stroke="#dadada" stroke-width="0.8" fill="none"/>
<path d="M179.5 390.2 H191.7 M179.5 398.4 H191.7" stroke="#e4e4e4" stroke-width="0.8" fill="none"/>
<line x1="179.5" y1="13" x2="179.5" y2="406" stroke="#2a2a2a" stroke-width="1.3"/>
<line x1="191.7" y1="13" x2="191.7" y2="406" stroke="#2a2a2a" stroke-width="1.3"/>
<line x1="179.5" y1="13.5" x2="191.7" y2="13.5" stroke="#1e1e1e" stroke-width="1.5"/>
<line x1="179.5" y1="32.2" x2="191.7" y2="32.2" stroke="#1e1e1e" stroke-width="1.5"/>
<line x1="179.5" y1="55.5" x2="191.7" y2="55.5" stroke="#1e1e1e" stroke-width="1.5"/>
<line x1="179.5" y1="78.9" x2="191.7" y2="78.9" stroke="#1e1e1e" stroke-width="1.5"/>
<line x1="179.5" y1="102.2" x2="191.7" y2="102.2" stroke="#1e1e1e" stroke-width="1.5"/>
<line x1="179.5" y1="125.5" x2="191.7" y2="125.5" stroke="#1e1e1e" stroke-width="1.5"/>
<line x1="179.5" y1="148.8" x2="191.7" y2="148.8" stroke="#1e1e1e" stroke-width="1.5"/>
<line x1="179.5" y1="172.2" x2="191.7" y2="172.2" stroke="#1e1e1e" stroke-width="1.5"/>
<line x1="179.5" y1="195.5" x2="191.7" y2="195.5" stroke="#1e1e1e" stroke-width="1.5"/>
<line x1="179.5" y1="218.8" x2="191.7" y2="218.8" stroke="#1e1e1e" stroke-width="1.5"/>
<line x1="179.5" y1="242.2" x2="191.7" y2="242.2" stroke="#1e1e1e" stroke-width="1.5"/>
<line x1="179.5" y1="265.5" x2="191.7" y2="265.5" stroke="#1e1e1e" stroke-width="1.5"/>
<line x1="179.5" y1="288.8" x2="191.7" y2="288.8" stroke="#1e1e1e" stroke-width="1.5"/>
<line x1="179.5" y1="312.2" x2="191.7" y2="312.2" stroke="#1e1e1e" stroke-width="1.5"/>
<line x1="179.5" y1="335.5" x2="191.7" y2="335.5" stroke="#1e1e1e" stroke-width="1.5"/>
<line x1="179.5" y1="358.8" x2="191.7" y2="358.8" stroke="#1e1e1e" stroke-width="1.5"/>
<line x1="179.5" y1="382.1" x2="191.7" y2="382.1" stroke="#1e1e1e" stroke-width="1.5"/>
<rect x="180" y="1" width="11.5" height="1.9" fill="#222"/>
<line x1="179" y1="6.2" x2="192.5" y2="6.2" stroke="#222" stroke-width="1.4"/>
<rect x="178.2" y="8.3" width="15.4" height="2" rx="1" fill="#1a1a1a"/>
<rect x="180.5" y="11" width="10.5" height="2" fill="#d8d8d8"/>
<line x1="179.5" y1="0" x2="179.5" y2="13" stroke="#333" stroke-width="1.2"/>
<line x1="191.7" y1="0" x2="191.7" y2="13" stroke="#333" stroke-width="1.2"/>
<rect x="172.7" y="406.6" width="25.2" height="6.3" rx="1.4" fill="#fff" stroke="#1e1e1e" stroke-width="1.3"/>
<rect x="172.7" y="432" width="25.2" height="6.3" rx="1.4" fill="#fff" stroke="#1e1e1e" stroke-width="1.3"/>
<path d="M178.6 413 V432 M192.8 413 V432 M178.6 438.6 V451 M192.8 438.6 V451 M178.6 422.6 H192.8" stroke="#1e1e1e" stroke-width="1.3" fill="none"/>
<path d="M179 414 L192.5 431 M192.5 414 L179 431 M181.5 440 V450 M190 440 V450" stroke="#cfcfcf" stroke-width="0.9"/>
<path d="M175 413 L178.6 415.2 M195.5 413 L192.8 415.2 M175 438.6 L178.6 440.8 M195.5 438.6 L192.8 440.8" stroke="#333" stroke-width="1.2"/>
<line x1="192" y1="19.7" x2="234.2" y2="19.7" stroke="#9a9a9a" stroke-width="0.9"/>
<path d="M228 18.5 L234.2 19.7 L228 21 Z" fill="#111"/>
<path d="M192.5 18.4 L186.3 19.7 L192.5 21 Z" fill="#222"/>
<line x1="234.2" y1="0" x2="234.2" y2="20" stroke="#8a8a8a" stroke-width="1"/>
<line x1="231" y1="4.6" x2="272" y2="4.6" stroke="#cfcfcf" stroke-width="1"/>
<path d="M232.5 0 L234.2 3 L236 0" stroke="#bbb" stroke-width="0.8" fill="none"/>
<text x="206.3" y="14.6" font-size="11" fill="#222" stroke="#222" stroke-width="0.3" textLength="22.9" lengthAdjust="spacingAndGlyphs">3.8m</text>
<line x1="266" y1="0" x2="266" y2="32" stroke="#8a8a8a" stroke-width="1"/>
<line x1="270.3" y1="0" x2="270.3" y2="32" stroke="#dcdcdc" stroke-width="0.8"/>
<path d="M264.8 3 L266 0 L267.2 3 Z" fill="#111"/>
<text x="0" y="0" font-size="11" fill="#222" stroke="#222" stroke-width="0.3" transform="translate(264.2 38) rotate(-90)" textLength="22" lengthAdjust="spacingAndGlyphs">3.6m</text>
<path d="M84 0 V3.2" stroke="#c8c8c8" stroke-width="1.4"/>
<ellipse cx="155" cy="9.7" rx="3" ry="3.2" fill="#0a0a0a"/>
<circle cx="150.6" cy="6" r="0.9" fill="#666"/><circle cx="159.6" cy="12.6" r="0.9" fill="#666"/>
<path d="M540.9 24.6 L543 28.2 L538.8 28.2 Z" fill="#111"/>
<circle cx="540.9" cy="33.6" r="2.8" fill="#0a0a0a"/>
<path d="M538.8 39 L543 39 L540.9 42.8 Z" fill="#111"/>
<text x="128.7" y="123.3" font-size="11" fill="#222" stroke="#222" stroke-width="0.3" textLength="28" lengthAdjust="spacingAndGlyphs">16.2m</text>
<line x1="99" y1="128.6" x2="165" y2="128.6" stroke="#b0b0b0" stroke-width="1"/>
<path d="M98.2 128.6 L106 127.19999999999999 L106 130.0 Z" fill="#111"/>
<line x1="97.8" y1="124" x2="97.8" y2="139" stroke="#777" stroke-width="0.9"/>
<path d="M165 135.8 H130 L110.5 147.5 H165" stroke="#1e1e1e" stroke-width="1.3" fill="none"/>
<line x1="146.2" y1="135.8" x2="146.2" y2="147.5" stroke="#1e1e1e" stroke-width="1.3"/>
<rect x="99.2" y="139.2" width="10.3" height="12.800000000000011" fill="#fff" stroke="#333" stroke-width="1.2"/>
<rect x="100" y="140.0" width="8.7" height="6.7" fill="#dadada"/>
<line x1="99.2" y1="146.7" x2="109.5" y2="146.7" stroke="#555" stroke-width="0.9"/>
<text x="124.3" y="145.1" font-size="5" fill="#2a2a2a" stroke="#333" stroke-width="0.22" textLength="16" lengthAdjust="spacingAndGlyphs">LP2003</text>
<text x="147.3" y="145.1" font-size="5" fill="#2a2a2a" stroke="#333" stroke-width="0.22" textLength="16" lengthAdjust="spacingAndGlyphs">LP2416</text>
<text x="128.7" y="185.8" font-size="11" fill="#222" stroke="#222" stroke-width="0.3" textLength="28" lengthAdjust="spacingAndGlyphs">14.2m</text>
<line x1="99" y1="191.5" x2="165" y2="191.5" stroke="#b0b0b0" stroke-width="1"/>
<path d="M98.2 191.5 L106 190.1 L106 192.9 Z" fill="#111"/>
<line x1="97.8" y1="188.7" x2="97.8" y2="203" stroke="#777" stroke-width="0.9"/>
<path d="M165 198.5 H128.5 L110.5 210.2 H165" stroke="#1e1e1e" stroke-width="1.3" fill="none"/>
<line x1="145.8" y1="198.5" x2="145.8" y2="210.2" stroke="#1e1e1e" stroke-width="1.3"/>
<rect x="99.2" y="203" width="10.3" height="11.199999999999989" fill="#fff" stroke="#333" stroke-width="1.2"/>
<rect x="100" y="203.8" width="8.7" height="5.6" fill="#dadada"/>
<line x1="99.2" y1="209.39999999999998" x2="109.5" y2="209.39999999999998" stroke="#555" stroke-width="0.9"/>
<text x="124.3" y="207.8" font-size="5" fill="#2a2a2a" stroke="#333" stroke-width="0.22" textLength="16" lengthAdjust="spacingAndGlyphs">LP2003</text>
<text x="147.3" y="207.8" font-size="5" fill="#2a2a2a" stroke="#333" stroke-width="0.22" textLength="16" lengthAdjust="spacingAndGlyphs">LP2216</text>
<rect x="282.8" y="419.8" width="34.4" height="24.6" fill="#c2c2c2"/>
<rect x="294.4" y="403.2" width="10.4" height="41" fill="#fff" stroke="#222" stroke-width="1.2"/>
<path d="M294.4 414.2 H304.8 M294.4 425 H304.8" stroke="#222" stroke-width="1.2"/>
<path d="M295 405 L304 413 M304 416 L295 424 M295 427 L304 442" stroke="#cfcfcf" stroke-width="0.9"/>
<path d="M294.4 424.5 L284 444.4 M304.8 424.5 L315.4 444.4" stroke="#222" stroke-width="1.3"/>
<rect x="282.8" y="444.5" width="35" height="2.5" fill="#fff" stroke="#222" stroke-width="1"/>
<path d="M282.6 450.5 L283.8 447 H286.4 L287.6 450.5 Z M312.6 450.5 L313.8 447 H316.4 L317.6 450.5 Z" fill="#2a2a2a"/>
<rect x="431.7" y="357.6" width="8.6" height="83.9" fill="#fff" stroke="#222" stroke-width="1.2"/>
<line x1="431.7" y1="371.1" x2="440.3" y2="371.1" stroke="#222" stroke-width="1.2"/>
<line x1="431.7" y1="385.8" x2="440.3" y2="385.8" stroke="#222" stroke-width="1.2"/>
<line x1="431.7" y1="399.3" x2="440.3" y2="399.3" stroke="#222" stroke-width="1.2"/>
<line x1="431.7" y1="413.3" x2="440.3" y2="413.3" stroke="#222" stroke-width="1.2"/>
<line x1="431.7" y1="427.8" x2="440.3" y2="427.8" stroke="#222" stroke-width="1.2"/>
<path d="M433 359.6 L439 364.35 L435 369.1" stroke="#e0e0e0" stroke-width="0.8" fill="none"/>
<path d="M433 373.1 L439 378.45000000000005 L435 383.8" stroke="#e0e0e0" stroke-width="0.8" fill="none"/>
<path d="M433 387.8 L439 392.55 L435 397.3" stroke="#e0e0e0" stroke-width="0.8" fill="none"/>
<path d="M433 401.3 L439 406.3 L435 411.3" stroke="#e0e0e0" stroke-width="0.8" fill="none"/>
<path d="M433 415.3 L439 420.55 L435 425.8" stroke="#e0e0e0" stroke-width="0.8" fill="none"/>
<path d="M433 429.8 L439 434.65 L435 439.5" stroke="#e0e0e0" stroke-width="0.8" fill="none"/>
<path d="M420 401.7 H430 M441.5 401.7 H451.7 M420 441.2 H430 M441.5 441.2 H451.7" stroke="#aaa" stroke-width="0.9"/>
</svg></body></html>
